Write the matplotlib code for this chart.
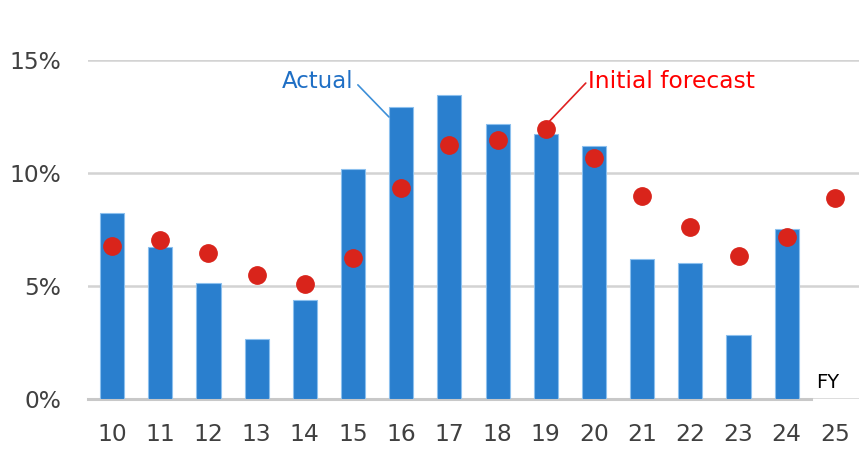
import matplotlib
matplotlib.use("Agg")
import matplotlib.pyplot as plt

years = ["10", "11", "12", "13", "14", "15", "16", "17", "18", "19", "20", "21", "22", "23", "24", "25"]
actual = [8.22, 6.73, 5.12, 2.65, 4.37, 10.19, 12.9, 13.44, 12.15, 11.71, 11.19, 6.21, 6.03, 2.82, 7.51]
forecast = [6.77, 7.05, 6.47, 5.5, 5.1, 6.25, 9.32, 11.25, 11.46, 11.95, 10.66, 8.97, 7.61, 6.34, 7.18, 8.91]
yticks = [0, 5, 10, 15]
ytick_labels = ["0%", "5%", "10%", "15%"]

plt.rcParams['font.family'] = ['DejaVu Sans']
fig = plt.figure(figsize=(8.63, 4.58), dpi=100)
ax = fig.add_axes([88/863, 59/458, (859-88)/863, (399-60)/458])

xs = list(range(len(years)))
ax.bar(xs[:len(actual)], actual, width=0.5, color="#2a7fce", edgecolor="#8cc0ee",
       linewidth=0.8, zorder=2)
ax.plot(xs, forecast, linestyle="none", marker="o", markersize=12.5,
        color="#d9241b", zorder=3)

ax.set_xlim(-0.5, len(years) - 0.5)
ax.set_ylim(0, 15)
ax.set_yticks(yticks)
ax.set_yticklabels(ytick_labels)
ax.set_xticks(xs)
ax.set_xticklabels(years)
ax.grid(axis="y", color="#d3d3d3", linewidth=1.8, zorder=0)
ax.set_axisbelow(True)
for s in ["top", "right", "left", "bottom"]:
    ax.spines[s].set_visible(False)
# baseline only under bar series range
ax.plot([-0.5, len(actual) - 0.5], [0, 0], color="#c8c8c8", linewidth=2.2,
        zorder=1, clip_on=False)
ax.tick_params(axis="both", length=0, labelsize=16.8, labelcolor="#404040")
ax.tick_params(axis="y", pad=19.5)
ax.tick_params(axis="x", pad=17)

# labels with leader lines
ax.text(5.0, 14.03, "Actual", ha="right", va="center", fontsize=16.5,
        color="#1f6fc5", zorder=4,
        bbox=dict(boxstyle="square,pad=0.1", fc="white", ec="none"))
ax.annotate("", xy=(5.745, 12.48), xytext=(5.1, 13.9),
            arrowprops=dict(arrowstyle="-", color="#3d8fd8", lw=1.2,
                            shrinkA=0, shrinkB=0), zorder=4)
ax.text(9.87, 14.03, "Initial forecast", ha="left", va="center", fontsize=16.8,
        color="#ff0000", zorder=4,
        bbox=dict(boxstyle="square,pad=0.1", fc="white", ec="none"))
ax.annotate("", xy=(9.04, 12.21), xytext=(9.83, 13.98),
            arrowprops=dict(arrowstyle="-", color="#e02020", lw=1.2,
                            shrinkA=0, shrinkB=0), zorder=4)
ax.text(14.85, 0.72, "FY", ha="center", va="center", fontsize=14,
        fontweight="medium", color="black")

fig.savefig("out.png", dpi=100)
